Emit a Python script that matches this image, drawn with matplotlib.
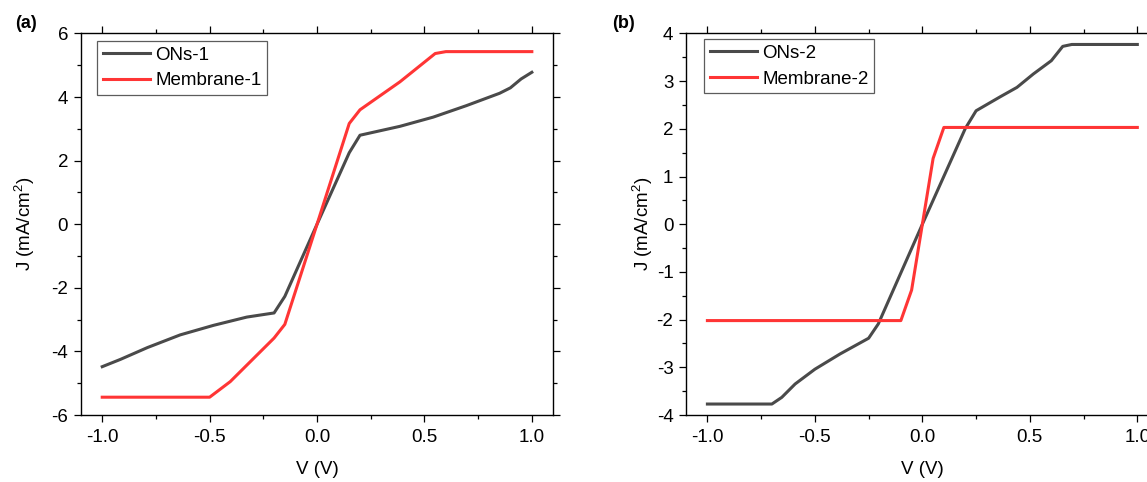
import numpy as np
import matplotlib
matplotlib.use("Agg")
import matplotlib.pyplot as plt
from matplotlib.ticker import MultipleLocator

plt.rcParams['font.family'] = ['Liberation Sans', 'DejaVu Sans']
plt.rcParams['mathtext.fontset'] = 'custom'
plt.rcParams['mathtext.rm'] = 'Liberation Sans'

# ---- panel (a) data ----
v_ons1 = [-1.0, -0.915, -0.79, -0.637, -0.482, -0.327, -0.2, -0.15, 0.0,
          0.15, 0.2, 0.386, 0.541, 0.695, 0.85, 0.9, 0.95, 1.0]
j_ons1 = [-4.48, -4.25, -3.88, -3.48, -3.18, -2.92, -2.79, -2.27, 0.0,
          2.25, 2.80, 3.08, 3.37, 3.73, 4.12, 4.29, 4.57, 4.78]

v_mem1 = [-1.0, -0.5, -0.404, -0.2, -0.15, 0.0, 0.15, 0.2, 0.386, 0.55, 0.6, 1.0]
j_mem1 = [-5.44, -5.44, -4.95, -3.58, -3.15, 0.0, 3.17, 3.60, 4.48, 5.37, 5.43, 5.43]

# ---- panel (b) data ----
v_ons2 = [-1.0, -0.7, -0.654, -0.592, -0.5, -0.383, -0.25, -0.205, 0.0,
          0.2, 0.25, 0.361, 0.44, 0.516, 0.6, 0.653, 0.695, 1.0]
j_ons2 = [-3.77, -3.77, -3.63, -3.35, -3.04, -2.72, -2.39, -2.09, 0.0,
          2.01, 2.38, 2.67, 2.87, 3.15, 3.43, 3.73, 3.77, 3.77]

v_mem2 = [-1.0, -0.1, -0.05, 0.0, 0.05, 0.1, 1.0]
j_mem2 = [-2.02, -2.02, -1.38, 0.0, 1.38, 2.03, 2.03]

gray = '#4a4a4a'
red = '#ff3535'
fs = 13.5

fig = plt.figure(figsize=(11.47, 4.82), dpi=100)
ax1 = fig.add_axes([0.0704, 0.139, 0.412, 0.7915])
ax2 = fig.add_axes([0.598, 0.139, 0.4123, 0.7915])


def style(ax, ylim, ymaj, ymin, ypad):
    ax.set_xlim(-1.1, 1.1)
    ax.set_ylim(*ylim)
    ax.xaxis.set_major_locator(MultipleLocator(0.5))
    ax.xaxis.set_minor_locator(MultipleLocator(0.25))
    ax.yaxis.set_major_locator(MultipleLocator(ymaj))
    ax.yaxis.set_minor_locator(MultipleLocator(ymin))
    ax.xaxis.set_major_formatter(plt.FuncFormatter(lambda v, p: f"{v:.1f}"))
    ax.yaxis.set_major_formatter(plt.FuncFormatter(lambda v, p: f"{v:.0f}"))
    ax.tick_params(which='both', direction='out', top=True, right=True,
                   labeltop=False, labelright=False, width=0.9, labelsize=fs)
    ax.tick_params(which='major', length=5)
    ax.tick_params(which='minor', length=3)
    ax.tick_params(axis='x', pad=5)
    ax.tick_params(axis='y', pad=4)
    for s in ax.spines.values():
        s.set_linewidth(1.0)
    ax.set_xlabel('V (V)', fontsize=fs, labelpad=11)
    ax.set_ylabel('J (mA/cm$^2$)', fontsize=fs, labelpad=ypad)


ax1.plot(v_ons1, j_ons1, color=gray, lw=2.2, label='ONs-1')
ax1.plot(v_mem1, j_mem1, color=red, lw=2.2, label='Membrane-1')
style(ax1, (-6, 6), 2, 1, 10)

ax2.plot(v_ons2, j_ons2, color=gray, lw=2.2, label='ONs-2')
ax2.plot(v_mem2, j_mem2, color=red, lw=2.2, label='Membrane-2')
style(ax2, (-4, 4), 1, 0.5, 1)

for ax, anchor in [(ax1, (0.0345, 0.980)), (ax2, (0.0387, 0.985))]:
    leg = ax.legend(loc='upper left', bbox_to_anchor=anchor, borderaxespad=0,
                    fontsize=fs, frameon=True, fancybox=False,
                    handlelength=2.5, handletextpad=0.3, borderpad=0.3,
                    labelspacing=0.45)
    leg.get_frame().set_edgecolor('#333333')
    leg.get_frame().set_linewidth(0.9)

fig.text(0.0227, 0.952, '(a)', fontsize=13, fontweight='bold', ha='center', va='center')
fig.text(0.544, 0.952, '(b)', fontsize=13, fontweight='bold', ha='center', va='center')

fig.savefig('out.png', dpi=100)
